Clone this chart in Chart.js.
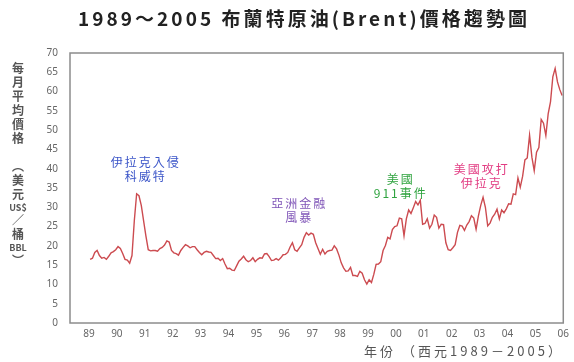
<!DOCTYPE html>
<html>
<head>
<meta charset="utf-8">
<script src="https://cdn.jsdelivr.net/npm/chart.js@4.4.0/dist/chart.umd.min.js"></script>
<style>
  html, body { margin: 0; padding: 0; background: #fff; }
</style>
</head>
<body>
<canvas id="brentChart" width="574" height="362"></canvas>
<script>
// monthly average Brent price, US$/bbl, Jan 1989 .. Dec 2005
const startYear = 1989;
const monthlyPrices = [
  16.5, 16.8, 18.3, 18.8, 17.5, 16.8, 17.0, 16.5, 17.3, 18.2, 18.5, 19.0, // 1989
  19.8, 19.3, 18.0, 16.5, 16.3, 15.5, 17.5, 26.5, 33.5, 33.0, 30.5, 26.5, // 1990
  22.5, 19.0, 18.7, 18.8, 18.8, 18.6, 19.3, 19.6, 20.2, 21.3, 21.0, 18.8, // 1991
  18.2, 18.0, 17.6, 18.8, 19.6, 20.3, 20.0, 19.5, 19.8, 19.8, 19.0, 18.3, // 1992
  17.7, 18.3, 18.6, 18.4, 18.3, 17.5, 16.7, 16.8, 16.2, 16.7, 15.3, 14.1, // 1993
  14.2, 13.7, 13.6, 14.8, 16.0, 16.6, 17.3, 16.4, 15.9, 16.2, 16.9, 15.9, // 1994
  16.5, 16.9, 16.8, 17.9, 18.0, 17.2, 16.2, 16.3, 16.7, 16.3, 16.9, 17.7, // 1995
  17.8, 18.3, 19.7, 20.8, 19.0, 18.6, 19.5, 20.3, 22.2, 23.4, 22.8, 23.3, // 1996
  23.0, 20.8, 19.3, 17.8, 19.1, 17.9, 18.6, 18.8, 18.9, 20.0, 19.2, 17.6, // 1997
  15.6, 14.3, 13.4, 13.5, 14.4, 12.3, 12.3, 12.1, 13.4, 12.9, 11.2, 10.1, // 1998
  11.2, 10.5, 12.6, 15.2, 15.3, 15.9, 18.8, 20.1, 22.2, 21.8, 24.2, 25.0, // 1999
  25.2, 27.2, 27.0, 22.6, 27.0, 29.3, 28.4, 29.9, 31.5, 30.6, 31.8, 25.6, // 2000
  25.8, 27.0, 24.6, 25.6, 28.0, 27.4, 24.6, 25.6, 25.5, 20.8, 19.0, 18.8, // 2001
  19.5, 20.3, 23.5, 25.3, 25.1, 24.0, 25.4, 26.3, 27.8, 27.2, 24.3, 27.8, // 2002
  30.5, 32.6, 30.0, 25.2, 25.9, 27.4, 28.2, 29.5, 27.0, 29.3, 28.6, 29.6, // 2003
  30.9, 30.8, 33.5, 33.3, 37.6, 35.2, 38.0, 42.3, 42.8, 48.7, 43.0, 39.5, // 2004
  44.3, 45.5, 52.8, 51.8, 48.6, 54.2, 57.3, 63.8, 66.0, 62.5, 60.5, 59.0  // 2005
];
const xTickYears = [1989, 1990, 1991, 1992, 1993, 1994, 1995, 1996, 1997,
                    1998, 1999, 2000, 2001, 2002, 2003, 2004, 2005, 2006];
const yMax = 70;
const yStep = 5;

// event notes
const eventLabels = [['伊拉克入侵', '科威特'], ['亞洲金融', '風暴'], ['美國', '911事件'], ['美國攻打', '伊拉克']];
const eventYears = [1991.0, 1996.5, 2000.14, 2003.04];
const eventPrices = [41.5, 31.1, 37.3, 39.9];
const eventColors = ['#3b55c8', '#8056b8', '#2fa33f', '#e23c82'];

const titleText = '1989～2005 布蘭特原油(Brent)價格趨勢圖';
const xTitleText = '年份 （西元1989－2005）';
const yTitleParts = ['每', '月', '平', '均', '價', '格', '︵', '美', '元', 'US$', '／', '桶', 'BBL', '︶'];

const cjk = "'Noto Sans CJK TC', 'Noto Sans', sans-serif";

const points = monthlyPrices.map((v, i) => ({ x: startYear + (i + 0.5) / 12, y: v }));

// draws text so that it fills a given width
function fitText(ctx, text, x, y, width) {
  const w = ctx.measureText(text).width;
  ctx.letterSpacing = ((width - w) / text.length) + 'px';
  ctx.fillText(text, x, y);
  ctx.letterSpacing = '0px';
}

// frame, titles and notes
const decorations = {
  id: 'decorations',
  afterDraw(chart) {
    const ctx = chart.ctx;
    const a = chart.chartArea;
    const xs = chart.scales.x, ys = chart.scales.y;
    ctx.save();

    ctx.strokeStyle = '#8c8c8c';
    ctx.lineWidth = 1.5;
    ctx.strokeRect(a.left, a.top, a.right - a.left, a.bottom - a.top);

    ctx.textBaseline = 'middle';
    ctx.textAlign = 'left';

    // main title
    ctx.fillStyle = '#222';
    ctx.font = 'bold 19px ' + cjk;
    fitText(ctx, titleText, 78, 19, 452);

    // x axis title
    ctx.fillStyle = '#555';
    ctx.font = '13px ' + cjk;
    fitText(ctx, xTitleText, 364, 351, 200);

    // y axis title, stacked vertically
    ctx.textAlign = 'center';
    let y = 68;
    yTitleParts.forEach(p => {
      const latin = /^[A-Z$]+$/.test(p);
      ctx.font = (latin ? 'bold 9px ' : 'bold 12px ') + cjk;
      const step = latin ? 12 : 14;
      if (p === '︵') y += 14;
      ctx.fillText(p, 18, y);
      y += step;
    });

    // event notes
    ctx.font = '12px ' + cjk;
    ctx.letterSpacing = '2px';
    eventLabels.forEach((lines, i) => {
      const px = xs.getPixelForValue(eventYears[i]);
      const py = ys.getPixelForValue(eventPrices[i]);
      ctx.fillStyle = eventColors[i];
      lines.forEach((t, k) => ctx.fillText(t, px + 1, py + k * 14));
    });
    ctx.letterSpacing = '0px';

    ctx.restore();
  }
};

new Chart(document.getElementById('brentChart'), {
  type: 'line',
  data: {
    datasets: [{
      data: points,
      borderColor: '#cc4b50',
      borderWidth: 1.4,
      pointRadius: 0,
      tension: 0,
      fill: false
    }]
  },
  options: {
    responsive: false,
    animation: false,
    parsing: false,
    layout: { padding: { top: 53, right: 7, left: 0, bottom: 0 } },
    plugins: {
      legend: { display: false },
      tooltip: { enabled: false }
    },
    scales: {
      x: {
        type: 'linear',
        min: 1988.32,
        max: 2006,
        grid: { display: false, drawTicks: false },
        border: { display: false },
        afterBuildTicks: scale => { scale.ticks = xTickYears.map(v => ({ value: v })); },
        afterFit: scale => { scale.height = 39; },
        ticks: {
          padding: 5,
          maxRotation: 0,
          autoSkip: false,
          color: '#666',
          font: { size: 10, family: "'Noto Sans', sans-serif" },
          callback: v => String(v).slice(2)
        }
      },
      y: {
        min: 0,
        max: yMax,
        grid: { display: false, drawTicks: false },
        border: { display: false },
        afterFit: scale => { scale.width = 70; },
        ticks: {
          stepSize: yStep,
          padding: 12,
          color: '#666',
          font: { size: 10, family: "'Noto Sans', sans-serif" }
        }
      }
    }
  },
  plugins: [decorations]
});
</script>
</body>
</html>
